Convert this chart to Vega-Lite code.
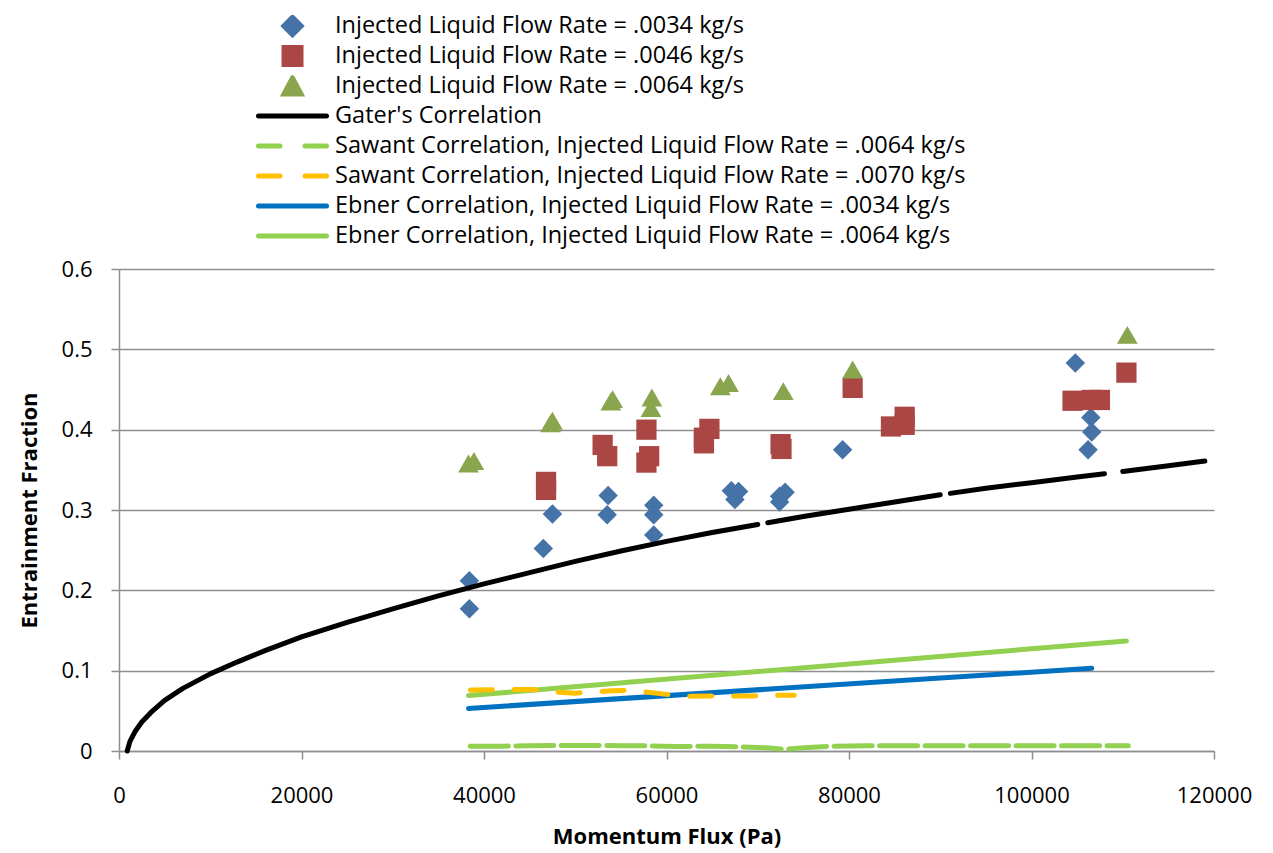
{
  "$schema": "https://vega.github.io/schema/vega-lite/v6.json",
  "width": 1095,
  "height": 482,
  "autosize": {"type": "none"},
  "padding": {"left": 119, "top": 269, "right": 59, "bottom": 102},
  "background": "white",
  "title": {"text": "removal slot has been modified.", "anchor": "start", "frame": "group", "orient": "top", "offset": 263, "baseline": "alphabetic", "dx": -114, "font": "Liberation Serif", "fontSize": 24, "fontWeight": "normal", "color": "#000000"},
  "config": {
    "view": {"stroke": null},
    "axis": {"labelFont": "Open Sans", "labelFontSize": 22, "labelColor": "#000000", "titleFont": "Open Sans", "titleFontSize": 22, "titleFontWeight": "bold", "titleColor": "#000000", "tickSize": 8, "tickColor": "#8e8e8e", "tickWidth": 1.5, "domainColor": "#8e8e8e", "domainWidth": 1.5, "gridColor": "#8e8e8e", "gridWidth": 1.6, "labelFlush": false, "labelOverlap": false}
  },
  "datasets": {
    "names": [
      {"k": "A", "name": "Injected Liquid Flow Rate = .0034 kg/s"},
      {"k": "B", "name": "Injected Liquid Flow Rate = .0046 kg/s"},
      {"k": "C", "name": "Injected Liquid Flow Rate = .0064 kg/s"},
      {"k": "D", "name": "Gater's Correlation"},
      {"k": "E", "name": "Sawant Correlation, Injected Liquid Flow Rate = .0064 kg/s"},
      {"k": "F", "name": "Sawant Correlation, Injected Liquid Flow Rate = .0070 kg/s"},
      {"k": "G", "name": "Ebner Correlation, Injected Liquid Flow Rate = .0034 kg/s"},
      {"k": "H", "name": "Ebner Correlation, Injected Liquid Flow Rate = .0064 kg/s"}
    ],
    "rows": [
      {"k": "A", "x": 38400, "y": 0.212}, {"k": "A", "x": 38400, "y": 0.177}, {"k": "A", "x": 46500, "y": 0.252}, {"k": "A", "x": 47500, "y": 0.295},
      {"k": "A", "x": 53600, "y": 0.318}, {"k": "A", "x": 53500, "y": 0.294}, {"k": "A", "x": 58600, "y": 0.306}, {"k": "A", "x": 58600, "y": 0.294},
      {"k": "A", "x": 58600, "y": 0.269}, {"k": "A", "x": 67100, "y": 0.324}, {"k": "A", "x": 67900, "y": 0.323}, {"k": "A", "x": 67500, "y": 0.313},
      {"k": "A", "x": 72400, "y": 0.310}, {"k": "A", "x": 73000, "y": 0.322}, {"k": "A", "x": 72400, "y": 0.317}, {"k": "A", "x": 79300, "y": 0.375},
      {"k": "A", "x": 104800, "y": 0.483}, {"k": "A", "x": 106500, "y": 0.415}, {"k": "A", "x": 106600, "y": 0.397}, {"k": "A", "x": 106200, "y": 0.375},
      {"k": "B", "x": 46800, "y": 0.335}, {"k": "B", "x": 46800, "y": 0.325}, {"k": "B", "x": 53000, "y": 0.381}, {"k": "B", "x": 53500, "y": 0.367},
      {"k": "B", "x": 57800, "y": 0.400}, {"k": "B", "x": 58100, "y": 0.367}, {"k": "B", "x": 57800, "y": 0.359}, {"k": "B", "x": 64700, "y": 0.401},
      {"k": "B", "x": 64100, "y": 0.390}, {"k": "B", "x": 64100, "y": 0.383}, {"k": "B", "x": 72500, "y": 0.382}, {"k": "B", "x": 72600, "y": 0.376},
      {"k": "B", "x": 80400, "y": 0.452}, {"k": "B", "x": 84600, "y": 0.404}, {"k": "B", "x": 86100, "y": 0.416}, {"k": "B", "x": 86100, "y": 0.406},
      {"k": "B", "x": 104500, "y": 0.436}, {"k": "B", "x": 106600, "y": 0.437}, {"k": "B", "x": 107500, "y": 0.437}, {"k": "B", "x": 110400, "y": 0.471},
      {"k": "C", "x": 38300, "y": 0.358}, {"k": "C", "x": 38900, "y": 0.361}, {"k": "C", "x": 47300, "y": 0.408}, {"k": "C", "x": 47500, "y": 0.411},
      {"k": "C", "x": 54100, "y": 0.438}, {"k": "C", "x": 53900, "y": 0.435}, {"k": "C", "x": 58400, "y": 0.440}, {"k": "C", "x": 58300, "y": 0.427},
      {"k": "C", "x": 65900, "y": 0.454}, {"k": "C", "x": 66800, "y": 0.458}, {"k": "C", "x": 72800, "y": 0.448}, {"k": "C", "x": 80400, "y": 0.475},
      {"k": "C", "x": 110500, "y": 0.518},
      {"k": "D", "seg": 1, "x": 900, "y": 0}, {"k": "D", "seg": 1, "x": 1200, "y": 0.012}, {"k": "D", "seg": 1, "x": 1800, "y": 0.025},
      {"k": "D", "seg": 1, "x": 2500, "y": 0.036}, {"k": "D", "seg": 1, "x": 3500, "y": 0.048}, {"k": "D", "seg": 1, "x": 5000, "y": 0.063},
      {"k": "D", "seg": 1, "x": 7000, "y": 0.078}, {"k": "D", "seg": 1, "x": 10000, "y": 0.096}, {"k": "D", "seg": 1, "x": 13000, "y": 0.111},
      {"k": "D", "seg": 1, "x": 16000, "y": 0.125}, {"k": "D", "seg": 1, "x": 20000, "y": 0.142}, {"k": "D", "seg": 1, "x": 25000, "y": 0.160},
      {"k": "D", "seg": 1, "x": 30000, "y": 0.177}, {"k": "D", "seg": 1, "x": 35000, "y": 0.193}, {"k": "D", "seg": 1, "x": 40000, "y": 0.208},
      {"k": "D", "seg": 1, "x": 45000, "y": 0.222}, {"k": "D", "seg": 1, "x": 50000, "y": 0.236}, {"k": "D", "seg": 1, "x": 55000, "y": 0.249},
      {"k": "D", "seg": 1, "x": 60000, "y": 0.261}, {"k": "D", "seg": 1, "x": 65000, "y": 0.272}, {"k": "D", "seg": 1, "x": 70000, "y": 0.282},
      {"k": "D", "seg": 2, "x": 71100, "y": 0.2841}, {"k": "D", "seg": 2, "x": 75000, "y": 0.292}, {"k": "D", "seg": 2, "x": 80000, "y": 0.301},
      {"k": "D", "seg": 2, "x": 85000, "y": 0.310}, {"k": "D", "seg": 2, "x": 90000, "y": 0.319},
      {"k": "D", "seg": 3, "x": 91100, "y": 0.3207}, {"k": "D", "seg": 3, "x": 95000, "y": 0.327}, {"k": "D", "seg": 3, "x": 100000, "y": 0.334},
      {"k": "D", "seg": 3, "x": 105000, "y": 0.341}, {"k": "D", "seg": 3, "x": 108000, "y": 0.3452},
      {"k": "D", "seg": 4, "x": 110000, "y": 0.348}, {"k": "D", "seg": 4, "x": 115000, "y": 0.355}, {"k": "D", "seg": 4, "x": 119000, "y": 0.361},
      {"k": "E", "x": 38500, "y": 0.006}, {"k": "E", "x": 42000, "y": 0.006}, {"k": "E", "x": 45000, "y": 0.0065}, {"k": "E", "x": 48000, "y": 0.007},
      {"k": "E", "x": 52000, "y": 0.007}, {"k": "E", "x": 55000, "y": 0.0065}, {"k": "E", "x": 58000, "y": 0.0065}, {"k": "E", "x": 61000, "y": 0.0055},
      {"k": "E", "x": 65000, "y": 0.006}, {"k": "E", "x": 68000, "y": 0.005}, {"k": "E", "x": 71000, "y": 0.004}, {"k": "E", "x": 73000, "y": 0.002},
      {"k": "E", "x": 75000, "y": 0.004}, {"k": "E", "x": 78000, "y": 0.006}, {"k": "E", "x": 82000, "y": 0.0065}, {"k": "E", "x": 90000, "y": 0.0065},
      {"k": "E", "x": 100000, "y": 0.0065}, {"k": "E", "x": 110600, "y": 0.0065},
      {"k": "F", "x": 38500, "y": 0.076}, {"k": "F", "x": 42000, "y": 0.0765}, {"k": "F", "x": 45500, "y": 0.0765}, {"k": "F", "x": 47000, "y": 0.074},
      {"k": "F", "x": 50000, "y": 0.072}, {"k": "F", "x": 52000, "y": 0.0735}, {"k": "F", "x": 54000, "y": 0.075}, {"k": "F", "x": 56500, "y": 0.0755},
      {"k": "F", "x": 58000, "y": 0.073}, {"k": "F", "x": 60000, "y": 0.0705}, {"k": "F", "x": 62500, "y": 0.068}, {"k": "F", "x": 66000, "y": 0.0685},
      {"k": "F", "x": 69500, "y": 0.0685}, {"k": "F", "x": 71500, "y": 0.0695}, {"k": "F", "x": 74000, "y": 0.0695},
      {"k": "G", "x": 38300, "y": 0.053}, {"k": "G", "x": 106600, "y": 0.103},
      {"k": "H", "x": 38300, "y": 0.069}, {"k": "H", "x": 110400, "y": 0.137}
    ]
  },
  "data": {"name": "rows"},
  "transform": [{"lookup": "k", "from": {"data": {"name": "names"}, "key": "k", "fields": ["name"]}}],
  "encoding": {
    "x": {"field": "x", "type": "quantitative", "scale": {"domain": [0, 120000], "nice": false, "zero": false},
      "axis": {"values": [0, 20000, 40000, 60000, 80000, 100000, 120000], "format": "d", "grid": false, "title": "Momentum Flux (Pa)", "labelPadding": 26, "titlePadding": 20}},
    "y": {"field": "y", "type": "quantitative", "scale": {"domain": [0, 0.6], "nice": false},
      "axis": {"values": [0, 0.1, 0.2, 0.3, 0.4, 0.5, 0.6], "format": ".1~f", "grid": true, "title": "Entrainment Fraction", "labelPadding": 19, "titlePadding": 20}},
    "color": {"field": "name", "type": "nominal",
      "scale": {"domain": ["Injected Liquid Flow Rate = .0034 kg/s", "Injected Liquid Flow Rate = .0046 kg/s", "Injected Liquid Flow Rate = .0064 kg/s", "Gater's Correlation", "Sawant Correlation, Injected Liquid Flow Rate = .0064 kg/s", "Sawant Correlation, Injected Liquid Flow Rate = .0070 kg/s", "Ebner Correlation, Injected Liquid Flow Rate = .0034 kg/s", "Ebner Correlation, Injected Liquid Flow Rate = .0064 kg/s"],
        "range": ["#4572A7", "#AA4643", "#89A54E", "#000000", "#92D050", "#FFC000", "#0070C0", "#92D050"]},
      "legend": {"orient": "none", "legendX": 137, "legendY": -257, "title": null, "padding": 0, "rowPadding": 2, "clipHeight": 28, "labelOffset": 6, "symbolOffset": 0,
        "labelFont": "Open Sans", "labelFontSize": 23.5, "labelColor": "#000000", "labelLimit": 2000, "symbolSize": 4624, "symbolStrokeWidth": 5,
        "encode": {"symbols": {"update": {
          "shape": {"signal": "datum.index==0 ? 'M0,-0.255L0.255,0L0,0.255L-0.255,0Z' : datum.index==1 ? 'M-0.25,-0.25L0.25,-0.25L0.25,0.25L-0.25,0.25Z' : datum.index==2 ? 'M0,-0.24L0.25,0.235L-0.25,0.235Z' : 'M-1,0L1,0'"},
          "fill": {"signal": "datum.index < 3 ? scale('color', datum.value) : 'transparent'"},
          "stroke": {"signal": "datum.index < 3 ? 'transparent' : scale('color', datum.value)"},
          "strokeDash": {"signal": "(datum.index == 4 || datum.index == 5) ? [21.5, 25] : [1000, 0]"},
          "strokeCap": {"value": "round"},
          "opacity": {"value": 1},
          "fillOpacity": {"value": 1},
          "strokeOpacity": {"value": 1}
        }}}}
    }
  },
  "layer": [
    {"transform": [{"filter": {"field": "k", "equal": "A"}}], "mark": {"type": "point", "shape": "diamond", "filled": true, "size": 380, "opacity": 1, "strokeWidth": 0}},
    {"transform": [{"filter": {"field": "k", "equal": "B"}}], "mark": {"type": "point", "shape": "square", "filled": true, "size": 410, "opacity": 1, "strokeWidth": 0}},
    {"transform": [{"filter": {"field": "k", "equal": "C"}}], "mark": {"type": "point", "shape": "triangle-up", "filled": true, "size": 430, "opacity": 1, "strokeWidth": 0}},
    {"transform": [{"filter": {"field": "k", "oneOf": ["D", "G", "H"]}}], "mark": {"type": "line", "strokeWidth": 5, "strokeCap": "round", "strokeJoin": "round"}, "encoding": {"detail": {"field": "seg", "type": "nominal"}}},
    {"transform": [{"filter": {"field": "k", "equal": "E"}}], "mark": {"type": "line", "strokeWidth": 5, "strokeCap": "round", "strokeDash": [38, 7.5]}},
    {"transform": [{"filter": {"field": "k", "equal": "F"}}], "mark": {"type": "line", "strokeWidth": 5, "strokeCap": "round", "strokeDash": [22, 22]}}
  ]
}
